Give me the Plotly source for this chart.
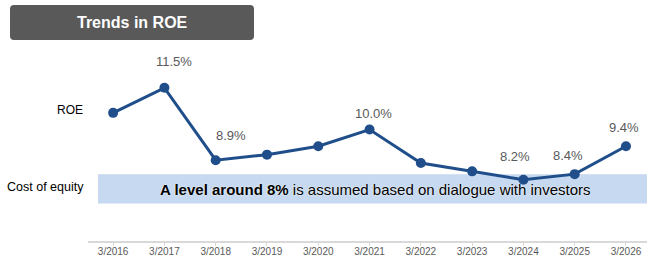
import plotly.graph_objects as go

years = ["3/2016", "3/2017", "3/2018", "3/2019", "3/2020", "3/2021",
         "3/2022", "3/2023", "3/2024", "3/2025", "3/2026"]
roe = [10.6, 11.5, 8.9, 9.1, 9.4, 10.0, 8.8, 8.5, 8.2, 8.4, 9.4]
labeled = {1: "11.5%", 2: "8.9%", 5: "10.0%", 8: "8.2%", 9: "8.4%", 10: "9.4%"}
band_low, band_high = 7.35, 8.4

W, H = 647, 257
ML, MR, MT, MB = 88, 0, 46, 16
PW, PH = W - ML - MR, H - MT - MB


def px(x):
    return (x - ML) / PW


def py(y):
    return (H - MB - y) / PH


LINE = "#1f4e8a"
GRAY = "#595959"
FONT = "Liberation Sans, Arial"

fig = go.Figure()
fig.add_trace(go.Scatter(
    x=list(range(len(years))), y=roe, mode="lines+markers",
    line=dict(color=LINE, width=3),
    marker=dict(color=LINE, size=10),
    hoverinfo="skip", showlegend=False, cliponaxis=False,
))

# cost of equity band
fig.add_shape(type="rect", xref="paper", yref="y",
              x0=px(98), x1=1.0, y0=band_low, y1=band_high,
              fillcolor="#c6d9f0", line=dict(width=0), layer="below")

# value labels
offsets = {1: (10, 26), 2: (15, 25), 5: (4, 16), 8: (-8, 23), 9: (-7, 19), 10: (-2, 19)}
for i, txt in labeled.items():
    dx, dy = offsets[i]
    fig.add_annotation(x=i, y=roe[i], text=txt, showarrow=False,
                       xanchor="center", yanchor="middle",
                       xshift=dx, yshift=dy,
                       font=dict(family=FONT, size=13, color=GRAY))

fig.add_annotation(xref="paper", yref="paper", x=px(375), y=py(189),
                   xanchor="center", yanchor="middle",
                   text="<b>A level around 8%</b> is assumed based on dialogue with investors",
                   showarrow=False,
                   font=dict(family=FONT, size=15, color="#000000",
                             shadow="0px 0px 2px white"))

fig.add_annotation(xref="paper", yref="paper", x=px(70), y=py(110),
                   xanchor="center", yanchor="middle",
                   text="ROE", showarrow=False,
                   font=dict(family=FONT, size=12, color="#000000"))
fig.add_annotation(xref="paper", yref="paper", x=px(45.5), y=py(187),
                   xanchor="center", yanchor="middle",
                   text="Cost of equity", showarrow=False,
                   font=dict(family=FONT, size=12.5, color="#000000"))

# title box (rounded)
x0, x1, y0, y1, r = 10, 254, 5, 40, 4
rx, ry = r / PW, r / PH
X0, X1, Y0, Y1 = px(x0), px(x1), py(y1), py(y0)
path = (f"M {X0+rx},{Y0} L {X1-rx},{Y0} Q {X1},{Y0} {X1},{Y0+ry} "
        f"L {X1},{Y1-ry} Q {X1},{Y1} {X1-rx},{Y1} L {X0+rx},{Y1} "
        f"Q {X0},{Y1} {X0},{Y1-ry} L {X0},{Y0+ry} Q {X0},{Y0} {X0+rx},{Y0} Z")
fig.add_shape(type="path", xref="paper", yref="paper", path=path,
              fillcolor="#595959", line=dict(width=0))
fig.add_annotation(xref="paper", yref="paper", x=px(132), y=py(22.5),
                   xanchor="center", yanchor="middle",
                   text="<b>Trends in ROE</b>", showarrow=False,
                   font=dict(family=FONT, size=16, color="white"))

fig.update_layout(
    width=W, height=H,
    margin=dict(l=ML, r=MR, t=MT, b=MB, pad=0, autoexpand=False),
    plot_bgcolor="white", paper_bgcolor="white",
    xaxis=dict(range=[-0.49, 10.41], tickmode="array",
               tickvals=list(range(len(years))), ticktext=years,
               showgrid=False, zeroline=False, showline=True,
               linecolor="#d9d9d9", linewidth=1.5,
               ticks="outside", ticklen=3, tickcolor="#d9d9d9",
               ticklabelstandoff=-3,
               tickfont=dict(family=FONT, size=10, color=GRAY),
               automargin=False),
    yaxis=dict(range=[6.0, 13.0], visible=False, showgrid=False, zeroline=False),
)

fig.write_html("out.html", config={"displayModeBar": False},
               post_script="document.body.style.margin='0';document.body.style.padding='0';")
